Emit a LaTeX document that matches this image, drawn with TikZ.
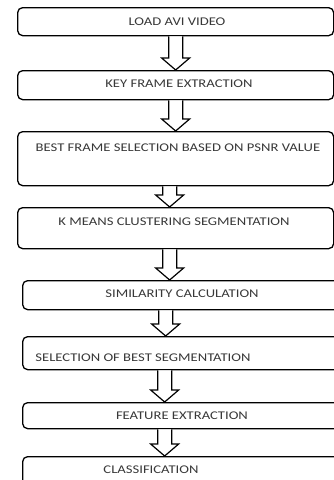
\documentclass[tikz,border=0pt]{standalone}
\usepackage{fontspec}
\setmainfont{Carlito}
\usetikzlibrary{calc}
\definecolor{txt}{HTML}{383838}
\tikzset{
  box/.style={draw=black, line width=1.3pt, rounded corners=5pt, fill=white, inner sep=0pt, anchor=north west},
  lbl/.style={text=txt, font=\fontsize{11.8}{12}\selectfont, xscale=1.24, inner sep=0pt, anchor=base},
  blockarrow/.style={draw=black, line width=1.2pt, fill=white, to path={
    let \p1=(\tikztostart), \p2=(\tikztotarget) in
    (\x1-7pt,\y1) -- (\x1-7pt,\y2+12pt) -- (\x1-14pt,\y2+12pt) -- (\x1,\y2)
    -- (\x1+14pt,\y2+12pt) -- (\x1+7pt,\y2+12pt) -- (\x1+7pt,\y1)}}
}
\begin{document}
\begin{tikzpicture}[x=1pt,y=-1pt]
\useasboundingbox (0,0) rectangle (334,480);
\clip (0,0) rectangle (334,480);
\node[box, minimum width=316pt, minimum height=28pt] (b1) at (17,7) {};
\node[box, minimum width=316pt, minimum height=29pt] (b2) at (17,70) {};
\node[box, minimum width=316pt, minimum height=54pt] (b3) at (17,131) {};
\node[box, minimum width=316pt, minimum height=41pt] (b4) at (17,207) {};
\node[box, minimum width=330pt, minimum height=29pt] (b5) at (22,280) {};
\node[box, minimum width=330pt, minimum height=33pt] (b6) at (22,336) {};
\node[box, minimum width=330pt, minimum height=26pt] (b7) at (22,402) {};
\node[box, minimum width=330pt, minimum height=40pt] (b8) at (22,456) {};

\node[lbl] (t1) at (177,25) {LOAD AVI VIDEO};
\node[lbl] (t2) at (179,87) {KEY FRAME EXTRACTION};
\node[lbl] (t3) at (178,151) {BEST FRAME SELECTION BASED ON PSNR VALUE};
\node[lbl] (t4) at (174,225) {K MEANS CLUSTERING SEGMENTATION};
\node[lbl] (t5) at (182,297) {SIMILARITY CALCULATION};
\node[lbl] (t6) at (143,361) {SELECTION OF BEST SEGMENTATION};
\node[lbl] (t7) at (182,419) {FEATURE EXTRACTION};
\node[lbl] (t8) at (151,473) {CLASSIFICATION};

\draw[blockarrow] (b1.south) to (b2.north);
\draw[blockarrow] (b2.south) to (b3.north);
\draw[blockarrow] ([xshift=-6pt]b3.south) to ([xshift=-6pt]b4.north);
\draw[blockarrow] ([xshift=-6pt]b4.south) to ([xshift=-6pt]b5.north);
\draw[blockarrow] ([xshift=-22pt]b5.south) to ([xshift=-22pt]b6.north);
\draw[blockarrow] ([xshift=-23pt]b6.south) to ([xshift=-23pt]b7.north);
\draw[blockarrow] ([xshift=-23pt]b7.south) to ([xshift=-23pt]b8.north);
\end{tikzpicture}
\end{document}
